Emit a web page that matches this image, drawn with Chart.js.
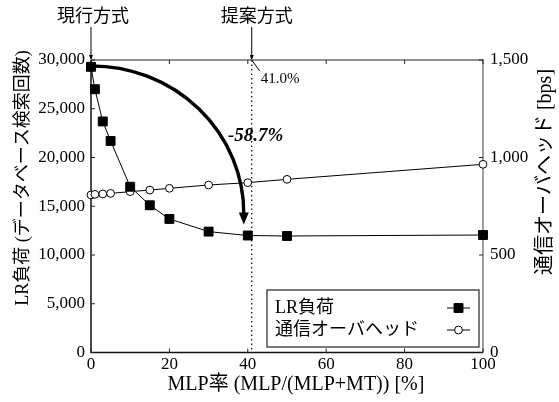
<!DOCTYPE html>
<html>
<head>
<meta charset="utf-8">
<script src="https://cdn.jsdelivr.net/npm/chart.js@4.4.1/dist/chart.umd.min.js"></script>
<style>
  html, body { margin: 0; padding: 0; background: #fff; }
</style>
</head>
<body>
<canvas id="grafica" width="559" height="402"></canvas>
<script>
// datos
const mlp_ratio = [0, 1, 3, 5, 10, 15, 20, 30, 40, 50, 100];
const lr_load = [29300, 27000, 23700, 21700, 17000, 15100, 13700, 12400, 12000, 11950, 12050];
const comm_overhead = [808, 811, 813, 816, 825, 833, 842, 859, 871, 888, 965];
const x_ticks = [0, 20, 40, 60, 80, 100];
const y_left_ticks = [0, 5000, 10000, 15000, 20000, 25000, 30000];
const y_right_ticks = [0, 500, 1000, 1500];
const series_labels = ["LR負荷", "通信オーバヘッド"];
const proposed_ratio = 41.0;
const reduction_label = "-58.7%";

const SERIF = "'Liberation Serif', 'Times New Roman', serif";
const MIXED = "'Liberation Serif', 'Noto Sans CJK JP', serif";
const JP = "'Noto Sans CJK JP', sans-serif";

const fmt = (v) => Number(v).toLocaleString("en-US");

function drawArrowHead(ctx, x, y, w, h) {
  // punta hacia abajo en (x, y)
  ctx.beginPath();
  ctx.moveTo(x, y);
  ctx.lineTo(x - w / 2, y - h);
  ctx.lineTo(x + w / 2, y - h);
  ctx.closePath();
  ctx.fill();
}

const plugin_marco = {
  id: "marco",
  beforeDatasetsDraw(chart) {
    const { ctx, chartArea: a, scales } = chart;
    const x = scales.x, y = scales.y, y1 = scales.y1;
    ctx.save();
    // bordes superior / derecho (gris)
    ctx.strokeStyle = "#6e6e6e";
    ctx.lineWidth = 1.3;
    ctx.beginPath();
    ctx.moveTo(a.left, a.top);
    ctx.lineTo(a.right, a.top);
    ctx.lineTo(a.right, a.bottom);
    ctx.stroke();
    // ejes izquierdo / inferior (negro)
    ctx.strokeStyle = "#111";
    ctx.lineWidth = 1.5;
    ctx.beginPath();
    ctx.moveTo(a.left, a.top);
    ctx.lineTo(a.left, a.bottom);
    ctx.lineTo(a.right, a.bottom);
    ctx.stroke();
    // marcas hacia dentro
    ctx.lineWidth = 1;
    ctx.strokeStyle = "#222";
    ctx.beginPath();
    x_ticks.forEach((v) => {
      const p = x.getPixelForValue(v);
      ctx.moveTo(p, a.bottom); ctx.lineTo(p, a.bottom - 4);
      ctx.moveTo(p, a.top); ctx.lineTo(p, a.top + 4);
    });
    y_left_ticks.forEach((v) => {
      const p = y.getPixelForValue(v);
      ctx.moveTo(a.left, p); ctx.lineTo(a.left + 4, p);
    });
    y_right_ticks.forEach((v) => {
      const p = y1.getPixelForValue(v);
      ctx.moveTo(a.right, p); ctx.lineTo(a.right - 4, p);
    });
    ctx.stroke();
    // linea punteada del metodo propuesto
    const px41 = x.getPixelForValue(proposed_ratio);
    ctx.setLineDash([1.5, 3]);
    ctx.strokeStyle = "#000";
    ctx.lineWidth = 1.2;
    ctx.beginPath();
    ctx.moveTo(px41, a.top);
    ctx.lineTo(px41, a.bottom);
    ctx.stroke();
    ctx.restore();
  },
  afterDatasetsDraw(chart) {
    const { ctx, chartArea: a, scales } = chart;
    const x = scales.x, y = scales.y;
    ctx.save();

    // titulos de ejes
    ctx.fillStyle = "#000";
    ctx.textAlign = "center";
    ctx.textBaseline = "middle";
    ctx.font = "20px " + MIXED;
    ctx.fillText("MLP率 (MLP/(MLP+MT)) [%]", 296, 385);

    ctx.save();
    ctx.translate(23, 178);
    ctx.rotate(-Math.PI / 2);
    ctx.font = "18px " + MIXED;
    ctx.fillText("LR負荷 (データベース検索回数)", 0, 0);
    ctx.restore();

    ctx.save();
    ctx.translate(546, 172);
    ctx.rotate(-Math.PI / 2);
    ctx.font = "20px " + MIXED;
    ctx.fillText("通信オーバヘッド [bps]", 0, 0);
    ctx.restore();

    // etiquetas superiores con flechas
    const px0 = x.getPixelForValue(0);
    const px41 = x.getPixelForValue(proposed_ratio);
    ctx.font = "18px " + JP;
    ctx.fillText("現行方式", px0 + 2, 15);
    ctx.fillText("提案方式", px41 + 5, 15);
    ctx.strokeStyle = "#000";
    ctx.lineWidth = 1;
    ctx.beginPath();
    ctx.moveTo(px0, 27); ctx.lineTo(px0, a.top - 1);
    ctx.moveTo(px41, 27); ctx.lineTo(px41, a.top - 1);
    ctx.stroke();
    drawArrowHead(ctx, px0, a.top, 4, 5);
    drawArrowHead(ctx, px41, a.top, 4, 5);

    // 41.0%
    ctx.beginPath();
    ctx.moveTo(px41, a.top);
    ctx.lineTo(px41 + 8, a.top + 11);
    ctx.stroke();
    ctx.font = "15px " + SERIF;
    ctx.textAlign = "left";
    ctx.fillText(proposed_ratio.toFixed(1) + "%", px41 + 9, a.top + 19);

    // flecha curva
    const sx = x.getPixelForValue(mlp_ratio[0]);
    const sy = y.getPixelForValue(lr_load[0]) - 1;
    const ex = x.getPixelForValue(mlp_ratio[8]) - 4;
    const ey = y.getPixelForValue(lr_load[8]) - 22;
    ctx.lineWidth = 3.4;
    ctx.beginPath();
    ctx.ellipse(sx, ey, ex - sx, ey - sy, 0, -Math.PI / 2, 0);
    ctx.stroke();
    drawArrowHead(ctx, ex, ey + 11, 10, 12);

    ctx.font = "italic bold 19px " + SERIF;
    ctx.textAlign = "center";
    ctx.fillText(reduction_label, px41 + 4, y.getPixelForValue(22200));

    // leyenda
    const bx = 267, by = 290, bw = 212, bh = 57;
    ctx.fillStyle = "#fff";
    ctx.fillRect(bx, by, bw, bh);
    ctx.strokeStyle = "#222";
    ctx.lineWidth = 1.2;
    ctx.strokeRect(bx, by, bw, bh);
    ctx.textAlign = "left";
    ctx.font = "18px " + MIXED;
    const rows = [by + 18, by + 40];
    chart.data.datasets.forEach((ds, i) => {
      const ry = rows[i];
      const mx = bx + bw - 20.5;
      ctx.fillStyle = "#000";
      ctx.fillText(ds.label, bx + 8, ry);
      ctx.lineWidth = 1;
      ctx.strokeStyle = "#000";
      ctx.beginPath();
      ctx.moveTo(bx + bw - 32, ry);
      ctx.lineTo(bx + bw - 9, ry);
      ctx.stroke();
      ctx.fillStyle = ds.pointBackgroundColor;
      ctx.beginPath();
      if (ds.pointStyle === "rect") {
        const s = ds.pointRadius * Math.SQRT1_2;
        ctx.rect(mx - s, ry - s, 2 * s, 2 * s);
      } else {
        ctx.arc(mx, ry, ds.pointRadius, 0, Math.PI * 2);
      }
      ctx.fill();
      ctx.stroke();
    });

    ctx.restore();
  },
};

const ctx = document.getElementById("grafica").getContext("2d");
const chart_mlp = new Chart(ctx, {
  type: "line",
  data: {
    datasets: [
      {
        label: series_labels[0],
        data: mlp_ratio.map((v, i) => ({ x: v, y: lr_load[i] })),
        yAxisID: "y",
        borderColor: "#000",
        borderWidth: 1,
        pointStyle: "rect",
        pointRadius: 6.3,
        pointBackgroundColor: "#000",
        pointBorderColor: "#000",
        pointBorderWidth: 1,
        tension: 0,
        fill: false,
        clip: false,
        order: 1,
      },
      {
        label: series_labels[1],
        data: mlp_ratio.map((v, i) => ({ x: v, y: comm_overhead[i] })),
        yAxisID: "y1",
        borderColor: "#000",
        borderWidth: 1,
        pointStyle: "circle",
        pointRadius: 3.9,
        pointBackgroundColor: "#fff",
        pointBorderColor: "#000",
        pointBorderWidth: 1,
        tension: 0,
        fill: false,
        clip: false,
        order: 2,
      },
    ],
  },
  options: {
    responsive: false,
    animation: false,
    devicePixelRatio: 1,
    layout: { padding: { top: 60, left: 0, right: 0, bottom: 0 } },
    plugins: {
      legend: { display: false },
      tooltip: { enabled: false },
    },
    scales: {
      x: {
        type: "linear",
        min: 0,
        max: 100,
        grid: { display: false, drawTicks: false },
        border: { display: false },
        ticks: {
          stepSize: 20,
          padding: 2,
          color: "#000",
          font: { family: SERIF, size: 17 },
        },
        afterFit: (s) => { s.height = 49.5; },
      },
      y: {
        position: "left",
        min: 0,
        max: 30000,
        grid: { display: false, drawTicks: false },
        border: { display: false },
        ticks: {
          stepSize: 5000,
          padding: 6,
          color: "#000",
          font: { family: SERIF, size: 17 },
          callback: (v) => fmt(v),
        },
        afterFit: (s) => { s.width = 91; },
      },
      y1: {
        position: "right",
        min: 0,
        max: 1500,
        grid: { display: false, drawTicks: false },
        border: { display: false },
        ticks: {
          stepSize: 500,
          padding: 7,
          color: "#000",
          font: { family: SERIF, size: 17 },
          callback: (v) => fmt(v),
        },
        afterFit: (s) => { s.width = 76; },
      },
    },
  },
  plugins: [plugin_marco],
});
</script>
</body>
</html>
